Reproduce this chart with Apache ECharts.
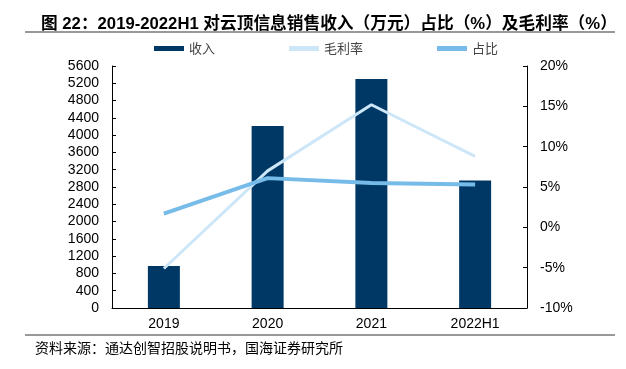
<!DOCTYPE html>
<html>
<head>
<meta charset="utf-8">
<script src="https://cdn.jsdelivr.net/npm/echarts@6/dist/echarts.min.js"></script>
<style>
  html, body { margin: 0; padding: 0; background: #fff; }
  #chart { width: 626px; height: 369px; }
</style>
</head>
<body>
<div id="chart"></div>
<script>
// data
const categories = ['2019', '2020', '2021', '2022H1'];
const revenue = [970, 4210, 5300, 2950];      // 收入（万元）
const grossMargin = [-5.1, 7.0, 15.2, 8.8];   // 毛利率 %
const share = [1.7, 6.1, 5.5, 5.3];           // 占比 %
const leftTicks = [0, 5600, 400];
const rightTicks = [-10, 20, 5];

const chart = echarts.init(document.getElementById('chart'));
const option = {
  animation: false,
  title: {
    text: '图 22：2019-2022H1 对云顶信息销售收入（万元）占比（%）及毛利率（%）',
    left: 36,
    top: 11,
    textStyle: {
      fontFamily: 'Liberation Sans, Noto Sans CJK SC',
      fontSize: 16.7,
      fontWeight: 'bold',
      color: '#000'
    }
  },
  legend: {
    top: 37,
    left: 149,
    itemWidth: 30,
    itemHeight: 5,
    itemGap: 74,
    textStyle: { fontFamily: 'Noto Sans CJK SC', fontSize: 13, color: '#444' },
    data: [
      { name: '收入', icon: 'rect' },
      { name: '毛利率', icon: 'rect' },
      { name: '占比', icon: 'rect' }
    ]
  },
  grid: { left: 112, right: 99, top: 66, bottom: 61 },
  xAxis: {
    type: 'category',
    data: categories,
    axisLine: { lineStyle: { color: '#000', width: 1 } },
    axisTick: { inside: true, length: 4, lineStyle: { color: '#000' } },
    axisLabel: { fontFamily: 'Liberation Sans', fontSize: 14, color: '#000', margin: 9 }
  },
  yAxis: [
    {
      type: 'value',
      min: leftTicks[0],
      max: leftTicks[1],
      interval: leftTicks[2],
      splitLine: { show: false },
      axisLine: { show: true, lineStyle: { color: '#000' } },
      axisTick: { show: true, inside: true, length: 4, lineStyle: { color: '#000' } },
      axisLabel: {
        fontFamily: 'Liberation Sans', fontSize: 14, color: '#000', margin: 13,
        formatter: v => String(v)
      }
    },
    {
      type: 'value',
      min: rightTicks[0],
      max: rightTicks[1],
      interval: rightTicks[2],
      splitLine: { show: false },
      axisLine: { show: true, lineStyle: { color: '#000' } },
      axisTick: { show: true, inside: true, length: 4, lineStyle: { color: '#000' } },
      axisLabel: { fontFamily: 'Liberation Sans', fontSize: 14, color: '#000', margin: 13, formatter: '{value}%' }
    }
  ],
  series: [
    {
      name: '收入',
      type: 'bar',
      data: revenue,
      barWidth: 32,
      itemStyle: { color: '#003865' }
    },
    {
      name: '毛利率',
      type: 'line',
      yAxisIndex: 1,
      data: grossMargin,
      symbol: 'none',
      itemStyle: { color: '#cde6f8' },
      lineStyle: { color: '#cde6f8', width: 3 }
    },
    {
      name: '占比',
      type: 'line',
      yAxisIndex: 1,
      data: share,
      symbol: 'none',
      itemStyle: { color: '#77bbe8' },
      lineStyle: { color: '#77bbe8', width: 4 }
    }
  ],
  graphic: [
    { type: 'line', shape: { x1: 25, y1: 32, x2: 615, y2: 32 }, style: { stroke: '#333', lineWidth: 1 } },
    { type: 'line', shape: { x1: 25, y1: 335, x2: 615, y2: 335 }, style: { stroke: '#333', lineWidth: 1 } },
    {
      type: 'text', left: 35, top: 341,
      style: { text: '资料来源：通达创智招股说明书，国海证券研究所', font: '14px "Noto Sans CJK SC"', fill: '#000' }
    }
  ]
};
chart.setOption(option);
</script>
</body>
</html>
